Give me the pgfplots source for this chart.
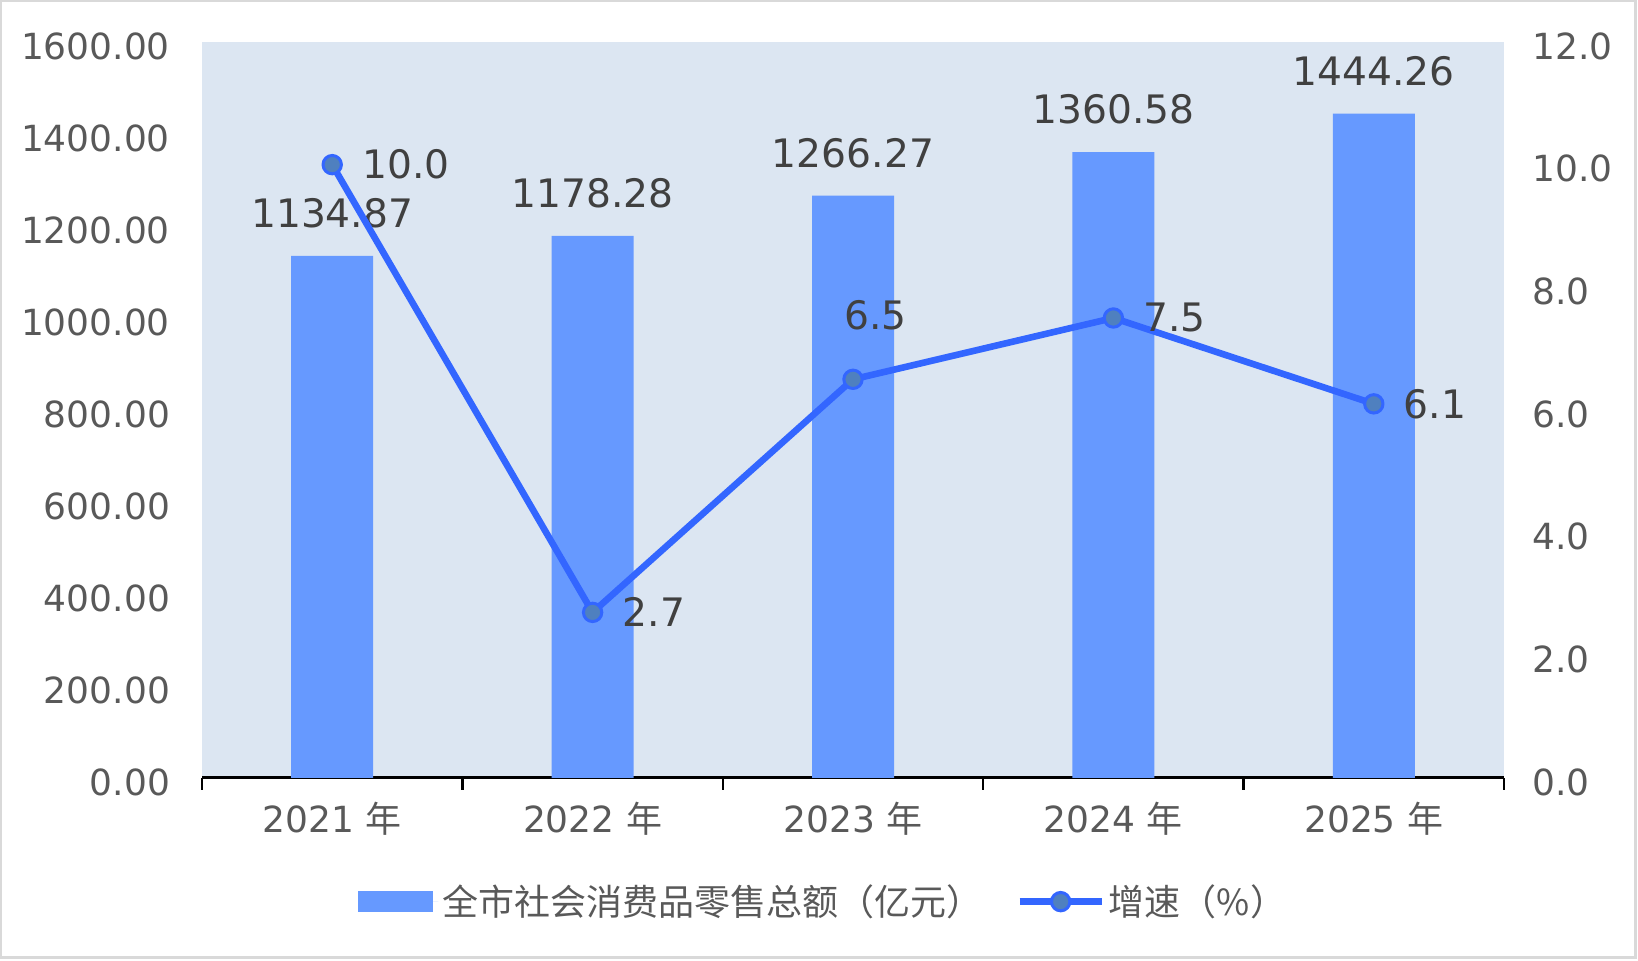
\documentclass[border=0pt]{standalone}
\usepackage{pgfplots}
\pgfplotsset{compat=1.18}
\usepackage{fontspec}
\setmainfont{DejaVu Sans}
\newfontfamily\cjk{Noto Sans CJK SC}
\definecolor{barc}{HTML}{6699FF}
\definecolor{linec}{HTML}{3366FF}
\definecolor{markc}{HTML}{4F80BF}
\definecolor{bgc}{HTML}{DCE6F2}
\definecolor{tickc}{HTML}{595959}
\definecolor{labc}{HTML}{404040}
\newcommand\tfont{\fontsize{18}{21.6}\selectfont}
\newcommand\dfont{\fontsize{19.6}{23.5}\selectfont}
\pgfplotsset{
  mylinelegend/.style={legend image code/.code={\draw[mark repeat=2,mark phase=2,##1] plot coordinates {(0pt,0pt) (20.5pt,0pt) (41pt,0pt)};}},
  mybarlegend/.style={legend image code/.code={\fill[barc] (0pt,-5.25pt) rectangle (37.5pt,5.25pt); \path (0pt,0pt) -- (40pt,0pt);}},
}
\begin{document}
\begin{tikzpicture}
\useasboundingbox (0,0) rectangle (819pt,480.5pt);
\draw[color=black!15, line width=1.2pt] (0.6pt,1.8pt) rectangle (817.8pt,479.9pt);
\begin{axis}[
  at={(101pt,91.5pt)}, anchor=south west, scale only axis,
  width=651pt, height=368pt,
  xmin=-0.5, xmax=4.5, ymin=0, ymax=1600,
  axis background/.style={fill=bgc},
  axis x line*=bottom, axis y line*=left,
  x axis line style={black, line width=1.5pt, -},
  y axis line style={draw=none},
  xtick={0,...,4},
  xticklabels={2021 {\cjk 年},2022 {\cjk 年},2023 {\cjk 年},2024 {\cjk 年},2025 {\cjk 年}},
  minor xtick={-0.5,0.5,...,4.5},
  major tick length=0pt, minor tick length=6pt, tick align=outside,
  minor x tick style={black, line width=1.2pt},
  ytick={0,200,...,1600},
  /pgf/number format/assume math mode=true,
  yticklabel style={/pgf/number format/fixed, /pgf/number format/fixed zerofill, /pgf/number format/precision=2, /pgf/number format/1000 sep={}, xshift=-12.5pt, yshift=-2pt},
  xticklabel style={yshift=-8.6pt},
  ticklabel style={font=\tfont, color=tickc},
]
\addplot[ybar, bar width=41pt, fill=barc, draw=none,
  nodes near coords, point meta=explicit symbolic,
  every node near coord/.append style={font=\dfont, color=labc, yshift=10.3pt}]
  coordinates {(0,1134.87)[1134.87] (1,1178.28)[1178.28] (2,1266.27)[1266.27] (3,1360.58)[1360.58] (4,1444.26)[1444.26]};
\end{axis}
\begin{axis}[
  at={(101pt,91.5pt)}, anchor=south west, scale only axis,
  width=651pt, height=368pt,
  xmin=-0.5, xmax=4.5, ymin=0, ymax=12,
  hide x axis, axis y line*=right,
  y axis line style={draw=none},
  major tick length=0pt,
  ytick={0,2,...,12},
  /pgf/number format/assume math mode=true,
  yticklabel style={/pgf/number format/fixed, /pgf/number format/fixed zerofill, /pgf/number format/precision=1, xshift=10.7pt, yshift=-2pt, font=\tfont, color=tickc},
  legend columns=2,
  legend style={at={(axis description cs:0.1198,-0.168)}, anchor=west, draw=none, fill=none, inner sep=0pt, font=\tfont, text=tickc,
    /tikz/every even column/.append style={column sep=15pt}},
]
\addlegendimage{area legend, fill=barc, draw=none, mybarlegend}
\addlegendentry{{\cjk 全市社会消费品零售总额（亿元）}}
\addplot[linec, line width=3.3pt, line join=round, mark=*, mark size=4.6pt,
  mark options={fill=markc, draw=linec, line width=1.5pt},
  mylinelegend,
  nodes near coords, point meta=explicit symbolic,
  every node near coord/.append style={anchor=west, xshift=11pt, font=\dfont, color=labc},
  coordinate style/.condition={\coordindex==2}{xshift=-19.4pt, yshift=32pt}]
  coordinates {(0,10.0)[10.0] (1,2.7)[2.7] (2,6.5)[6.5] (3,7.5)[7.5] (4,6.1)[6.1]};
\addlegendentry{{\cjk 增速（\%）}}
\end{axis}
\end{tikzpicture}
\end{document}
